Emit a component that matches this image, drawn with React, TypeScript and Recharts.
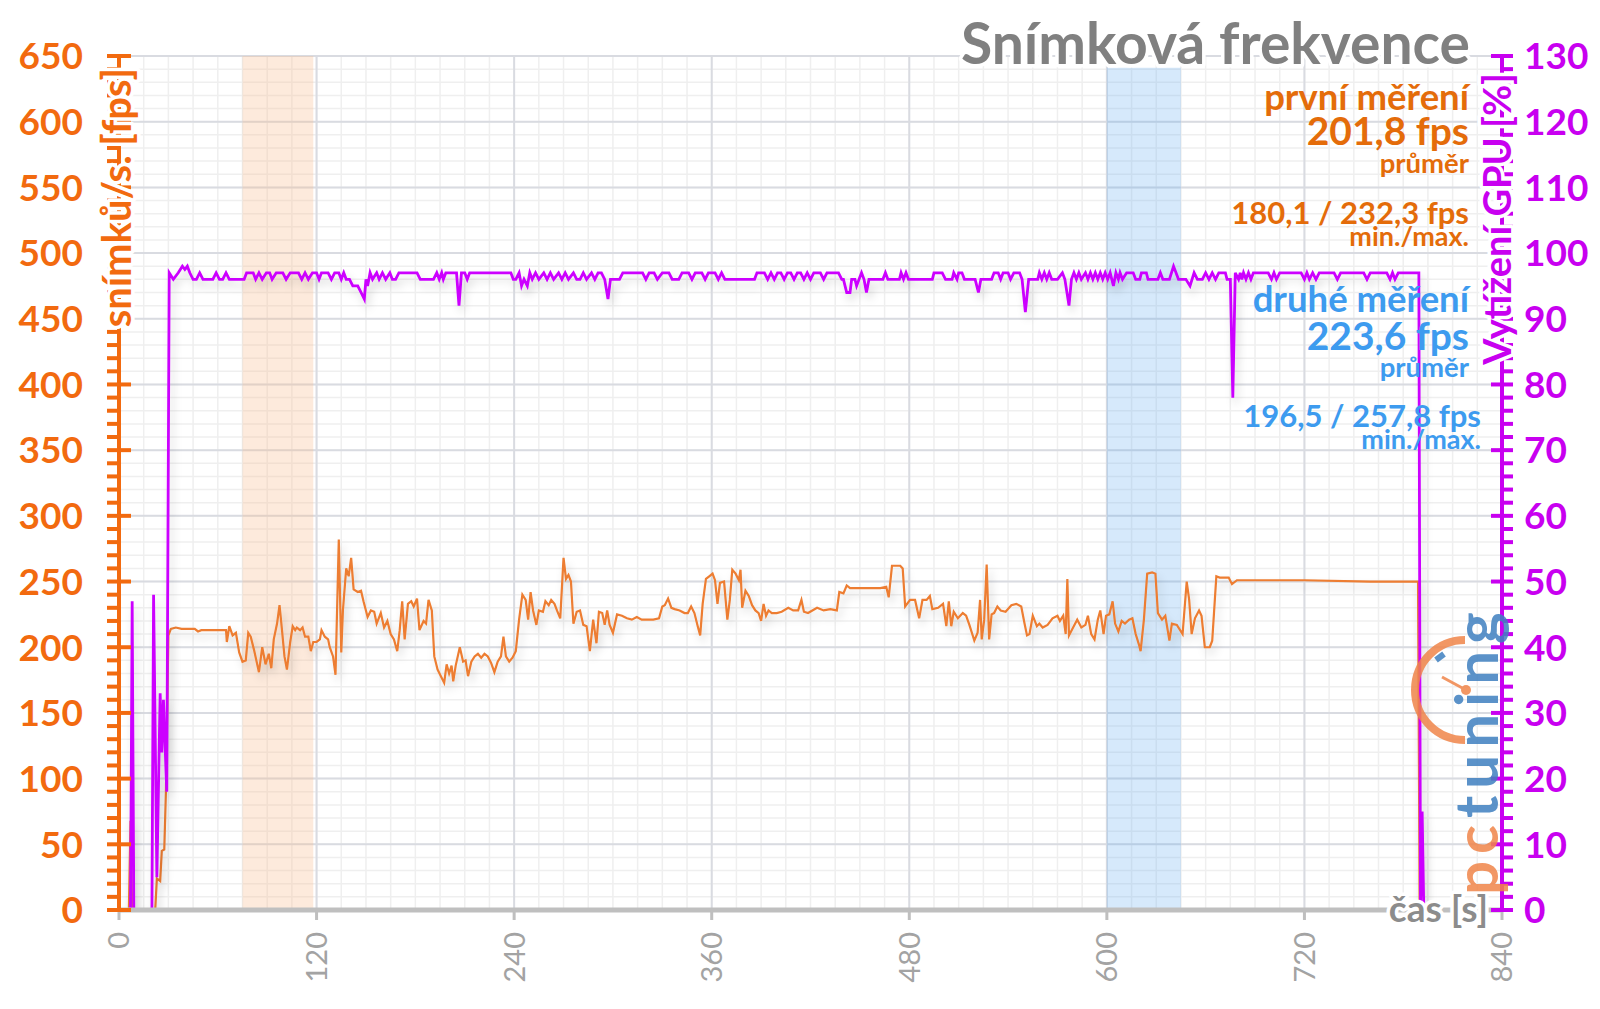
import React from "react";
import {
  ComposedChart,
  Line,
  XAxis,
  YAxis,
  CartesianGrid,
  ReferenceArea,
} from "recharts";

// time [s] -> fps
const fpsPoints: [number, number][] = [
  [0, 0], [6, 0], [7, 68], [8, 0], [22, 0], [23, 24], [25, 22], [26, 45], [27.5, 46], [28.5, 90],
  [30, 209], [31.5, 214], [34.5, 215], [38, 214], [46, 214], [48, 212], [50, 213], [65, 213], [65.5, 204], [67, 216],
  [69, 209], [71, 211], [73, 196], [75, 189], [77, 190], [78.5, 211], [80, 208], [82, 198], [85, 181], [87, 200],
  [89, 187], [91, 195], [92.5, 184], [94, 206], [96, 218], [97.5, 232], [99, 213], [100.5, 193], [102, 183], [104, 204],
  [105.5, 216], [107, 213], [108, 215], [110, 213], [111.5, 215], [113, 208], [115, 208], [116.5, 197], [118, 204], [120, 204],
  [122, 206], [123, 213], [125, 208], [127, 206], [128, 200], [130, 193], [131.5, 179], [133.5, 282], [135, 196], [136, 228],
  [138, 260], [139.5, 254], [141, 268], [142.5, 244], [145, 242], [147, 243], [148.5, 235], [151, 223], [153, 228], [155, 227],
  [156.5, 218], [159, 226], [161, 215], [163, 220], [165, 210], [167, 206], [169, 197], [170.5, 213], [172, 235], [173.5, 206],
  [175.5, 233], [177.5, 235], [179, 231], [181, 237], [182.5, 213], [185, 220], [186.5, 218], [188, 236], [190, 228], [191.5, 193],
  [193.5, 183], [195.5, 178], [197.5, 173], [199, 187], [200.5, 180], [202, 186], [203, 174], [204.5, 186], [207, 200], [209, 189],
  [210.5, 190], [212, 178], [214, 189], [216, 193], [218, 195], [220, 192], [222, 195], [224, 193], [226, 188], [228, 181],
  [230, 189], [232, 193], [233.5, 208], [235, 193], [237, 189], [239, 192], [241, 197], [243, 221], [245, 240], [247, 236],
  [248.5, 221], [250, 242], [251.5, 228], [253.5, 217], [255, 228], [257.5, 227], [259, 235], [261, 232], [262.5, 236], [264.5, 233],
  [266, 228], [268, 222], [270, 268], [271.5, 252], [273, 255], [274.5, 250], [276, 218], [278, 227], [280, 228], [282, 217],
  [284, 216], [286, 197], [288, 221], [290, 203], [291.5, 227], [293.5, 226], [295, 217], [296.5, 228], [298, 217], [300, 211],
  [302.5, 225], [305.5, 224], [308.5, 222], [311.5, 221], [314.5, 223], [317.5, 221], [320.5, 221], [324.5, 221], [328, 222], [330, 231],
  [331.5, 232], [333.5, 237], [335.5, 230], [337.5, 229], [340.5, 228], [343.5, 226], [345.5, 226], [347.5, 231], [349.5, 226], [351.5, 216],
  [353, 209], [354.5, 233], [356.5, 252], [358.5, 254], [360.5, 256], [362, 251], [363.5, 233], [365, 249], [367.5, 250], [369.5, 221],
  [371, 236], [372.5, 259], [374.5, 256], [376.5, 251], [377.5, 259], [378.5, 230], [380.5, 243], [382.5, 239], [384.5, 232], [386.5, 228],
  [388.5, 226], [390, 220], [391.5, 233], [393, 224], [394.5, 228], [396.5, 226], [399.5, 226], [402.5, 227], [406.5, 230], [409.5, 228],
  [412.5, 228], [414.5, 236], [416, 227], [418.5, 226], [424, 230], [428, 228], [432, 229], [436, 228], [437.5, 242], [440, 241],
  [442, 247], [444, 245], [450, 245], [456.5, 245], [462.5, 245], [466, 246], [467.5, 238], [469.5, 262], [474.5, 262], [476, 260],
  [477.5, 231], [480.5, 236], [483.5, 236], [486, 222], [488, 236], [490.5, 236], [492.5, 239], [494, 229], [497.5, 230], [500.5, 233],
  [502.5, 216], [504, 235], [505.5, 216], [507, 227], [509.5, 222], [512.5, 226], [514.5, 224], [516.5, 217], [519.5, 205], [521.5, 211],
  [523, 236], [524, 206], [525.5, 221], [527, 263], [528.5, 206], [530, 225], [531.5, 226], [533.5, 231], [535.5, 228], [538.5, 227],
  [542, 232], [545, 233], [548, 231], [550, 218], [551.5, 209], [553, 210], [555, 224], [557.5, 216], [559, 218], [561, 215],
  [564, 217], [567, 222], [570, 224], [571.5, 220], [573.5, 224], [575, 210], [576, 252], [577, 209], [579.5, 215], [582, 221],
  [584.5, 215], [587, 217], [588.5, 224], [590.5, 210], [592.5, 206], [594.5, 221], [596, 228], [598, 210], [599.5, 224], [601.5, 225],
  [603.5, 235], [605, 218], [607, 212], [609, 220], [611, 218], [613.5, 221], [615.5, 222], [617.5, 210], [619.5, 202], [620.5, 197],
  [622.5, 221], [624.5, 256], [627.5, 257], [629.5, 256], [631, 226], [633.5, 221], [635.5, 224], [638, 205], [639.5, 218], [642.5, 217],
  [646, 210], [648.5, 250], [650, 236], [651.5, 210], [653.5, 222], [656, 228], [657.5, 224], [659.5, 200], [662.5, 200], [664, 205],
  [666.5, 254], [668.5, 253], [674, 253], [676, 248], [679, 251], [720, 251], [760, 250], [789, 250], [790, 0],
];

// time [s] -> GPU load [%]
const gpuPoints: [number, number][] = [
  [0, 0], [7, 0], [8, 47], [9, 0], [20, 0], [21, 48], [23, 5], [25, 33], [26, 24], [27, 32],
  [29, 18], [30.5, 97], [33, 96], [36, 97], [38.5, 98], [40, 97.5], [41.5, 98], [43, 97], [45, 96], [47, 96],
  [49, 97], [51, 96], [57, 96], [59, 97], [61, 96], [63, 96], [65, 97], [67, 96], [76, 96], [77.5, 97],
  [81.5, 97], [83, 96], [85, 97], [87, 96], [89.5, 97], [91.5, 97], [93, 96], [95.5, 97], [99.5, 97], [101.5, 96],
  [104, 97], [109, 97], [111, 96], [113, 97], [115, 96], [117.5, 97], [120, 97], [121.5, 96], [123, 97], [127, 97],
  [129, 96], [131, 97], [133.5, 97], [135, 96], [136.5, 97], [138, 96], [140, 96], [142, 95], [145, 95], [147, 94],
  [149, 93], [150, 96], [151, 95], [152.5, 97], [154, 96], [156.5, 97], [158, 96], [160, 97], [162, 96], [164.5, 97],
  [166, 96], [168, 96], [170, 97], [181, 97], [183, 96], [191, 96], [193, 97], [194.5, 96], [196, 97], [197, 96],
  [198.5, 97], [205, 97], [206.5, 92], [208, 97], [210, 97], [211.5, 96], [213, 97], [238, 97], [239.5, 96], [241, 96],
  [243, 97], [244.5, 95], [246, 96], [248, 95], [249.5, 97], [251, 96], [253, 97], [255, 96], [258, 97], [260, 96],
  [262, 97], [264, 96], [267, 97], [269, 96], [271, 97], [273, 96], [276, 97], [278, 96], [280, 96], [282, 97],
  [284, 96], [287, 97], [289, 96], [291, 97], [293, 97], [295, 96], [297, 93], [298.5, 96], [304, 96], [306, 97],
  [318, 97], [320, 96], [322, 97], [325, 97], [327, 96], [330, 97], [334, 97], [336, 96], [340, 96],
  [342, 97], [346, 97], [348, 96], [350, 97], [354, 97], [356, 96], [358, 97], [362, 97], [364, 96], [366, 97],
  [368, 96], [386, 96], [387.5, 97], [392, 97], [394, 96],
  [396, 97], [398, 96], [400, 97], [402, 97], [404, 96], [406, 97], [408, 97], [410, 96], [412, 97], [414, 97],
  [416, 96], [418, 97], [420, 96], [422, 97], [426, 97], [428, 96], [430, 97], [437, 97], [439, 96], [440, 96],
  [442, 94], [444, 94], [445, 96], [447, 96], [448, 95], [449.5, 96], [451, 97], [452.5, 96], [454, 94], [455.5, 96],
  [464, 96], [465.5, 97], [467, 96], [474, 96], [475, 97], [476.5, 96], [478, 97], [479.5, 96], [494, 96], [495, 97],
  [500, 97], [502, 96], [506, 96], [507, 97], [509, 96], [510, 97], [512, 97], [513.5, 96], [520, 96], [522, 94],
  [523.5, 96], [530, 96], [531.5, 97], [534, 97], [535.5, 96], [537, 97], [540, 97], [541.5, 96], [543.5, 97], [547, 97],
  [548.5, 96], [550.5, 91], [552.5, 96], [558, 96], [559, 97], [560.5, 96], [562, 97], [563.5, 96], [565, 97], [566.5, 96],
  [570, 96], [573, 97], [574.5, 96], [577, 92], [578.5, 96], [580, 97], [581.5, 96], [583, 97], [584.5, 96], [587, 97],
  [588.5, 96], [590, 97], [591.5, 96], [593, 97], [594.5, 96], [596, 97], [597.5, 96], [599, 97], [600.5, 96], [602, 97],
  [603, 96], [604, 95], [605.5, 97], [607, 96], [608, 97], [609.5, 96], [612, 97], [616, 97], [617.5, 96], [620, 96],
  [621, 97], [624, 97], [625, 96], [631, 96], [632.5, 97], [634, 96], [638, 96], [640.5, 98], [642, 97], [643.5, 96],
  [648, 96], [650.5, 95], [653, 97], [655, 96], [658, 96], [660, 97], [662, 96], [664, 97], [666, 96], [668, 97],
  [672, 97], [673, 96], [675, 96], [676.5, 78], [678, 97], [680, 96], [681, 97], [682, 96], [683, 97], [684.5, 96],
  [686, 97], [687.5, 96], [689, 97], [698, 97], [700, 96], [701.5, 97], [703, 96], [705, 97], [718, 97], [720, 96],
  [721.5, 97], [723, 96], [725, 97], [727, 96], [729, 97], [738, 97], [740, 96], [742, 97], [756, 97], [758, 96],
  [760, 97], [770, 97], [772, 96], [773.5, 97], [775, 96], [777, 97], [789.5, 97], [790.5, 0], [791.5, 15], [792.5, 0],
];

const timeTicks = [0, 120, 240, 360, 480, 600, 720, 840];
const fpsMajorTicks = [0, 50, 100, 150, 200, 250, 300, 350, 400, 450, 500, 550, 600, 650];

// measured windows (s)
const firstRun = [75, 118];
const secondRun = [600, 645];

const firstStats = { label: "první měření", avg: "201,8 fps", minMax: "180,1 / 232,3 fps" };
const secondStats = { label: "druhé měření", avg: "223,6 fps", minMax: "196,5 / 257,8 fps" };

const fpsMinorTicks = Array.from({ length: 66 }, (_, i) => i * 10);
const gpuMinorTicks = Array.from({ length: 66 }, (_, i) => i * 2);
const timeMinorLines = Array.from({ length: 57 }, (_, i) => i * 15);

const fpsData = fpsPoints.map(([t, v]) => ({ t, fps: v }));
const gpuData = gpuPoints.map(([t, v]) => ({ t, gpu: v }));

const FONT = "Lato, 'Open Sans', sans-serif";
const AXIS_ORANGE = "#F26A0F";
const AXIS_MAGENTA = "#C800F0";
const TEXT_ORANGE = "#E46C0A";
const TEXT_BLUE = "#3D9BEF";
const GRAY = "#8C8C8C";

const FpsTick = (props: any) => {
  const { x, y, payload } = props;
  const v = payload.value;
  const major = v % 50 === 0;
  return (
    <g>
      <line x1={x - 12} x2={major ? x + 12 : x - 1} y1={y} y2={y} stroke={AXIS_ORANGE} strokeWidth={4} />
      {major && (
        <text x={x - 36} y={y} dy="0.36em" textAnchor="end" fill={AXIS_ORANGE}
          style={{ fontFamily: FONT, fontWeight: 700, fontSize: 37 }}>
          {v}
        </text>
      )}
    </g>
  );
};

const GpuTick = (props: any) => {
  const { x, y, payload } = props;
  const v = payload.value;
  const major = v % 10 === 0;
  return (
    <g>
      <line x1={major ? x - 11 : x + 1} x2={x + 11} y1={y} y2={y} stroke={AXIS_MAGENTA} strokeWidth={4} />
      {major && (
        <text x={x + 22} y={y} dy="0.36em" textAnchor="start" fill={AXIS_MAGENTA}
          style={{ fontFamily: FONT, fontWeight: 700, fontSize: 37 }}>
          {v}
        </text>
      )}
    </g>
  );
};

const TimeTick = (props: any) => {
  const { x, y, payload } = props;
  return (
    <text x={x} y={y} dy="0.36em" textAnchor="end" transform={`rotate(-90 ${x} ${y})`} fill="#A3A3A3"
      style={{ fontFamily: FONT, fontSize: 29 }}>
      {payload.value}
    </text>
  );
};

const halo = { paintOrder: "stroke", stroke: "#fff", strokeWidth: 7, strokeLinejoin: "round" } as any;

const Overlay = () => (
  <svg width={1600} height={1009} style={{ position: "absolute", left: 0, top: 0, pointerEvents: "none" }}>
    <g style={{ fontFamily: FONT, fontWeight: 700 }}>
      <text x={1470} y={64} textAnchor="end" fill="#808080" fontSize={57} style={halo}>Snímková frekvence</text>

      <text x={1469} y={110} textAnchor="end" fill={TEXT_ORANGE} fontSize={36.5}>{firstStats.label}</text>
      <text x={1469} y={145} textAnchor="end" fill={TEXT_ORANGE} fontSize={39}>{firstStats.avg}</text>
      <text x={1469} y={173} textAnchor="end" fill={TEXT_ORANGE} fontSize={27.5}>průměr</text>
      <text x={1469} y={224} textAnchor="end" fill={TEXT_ORANGE} fontSize={31}>{firstStats.minMax}</text>
      <text x={1469} y={246} textAnchor="end" fill={TEXT_ORANGE} fontSize={27}>min./max.</text>

      <text x={1469} y={312} textAnchor="end" fill={TEXT_BLUE} fontSize={36.5}>{secondStats.label}</text>
      <text x={1469} y={350} textAnchor="end" fill={TEXT_BLUE} fontSize={39}>{secondStats.avg}</text>
      <text x={1469} y={377} textAnchor="end" fill={TEXT_BLUE} fontSize={27.5}>průměr</text>
      <text x={1481} y={427} textAnchor="end" fill={TEXT_BLUE} fontSize={31}>{secondStats.minMax}</text>
      <text x={1481} y={449} textAnchor="end" fill={TEXT_BLUE} fontSize={27}>min./max.</text>

      <text x={131} y={68} textAnchor="end" transform="rotate(-90 131 68)" fill={AXIS_ORANGE} fontSize={40} style={halo}>
        snímků/s. [fps]
      </text>
      <text x={1511} y={73} textAnchor="end" transform="rotate(-90 1511 73)" fill={AXIS_MAGENTA} fontSize={38} style={halo}>
        Vytížení GPU [%]
      </text>
      <text x={1488} y={922} textAnchor="end" fill={GRAY} fontSize={37} style={halo}>čas [s]</text>
    </g>
    {/* watermark */}
    <g opacity={0.85}>
      <path d="M 1465 640 A 50 50 0 0 0 1465 740" fill="none" stroke="#F0854A" strokeWidth={8} />
      <line x1={1442} y1={677} x2={1466} y2={690} stroke="#F0854A" strokeWidth={3} />
      <circle cx={1466} cy={690} r={5} fill="#F0854A" />
      <line x1={1436} y1={660} x2={1444} y2={654} stroke="#3F80C0" strokeWidth={6} />
      <text x={1498} y={895} transform="rotate(-90 1498 895)" fontSize={60} fontWeight={700}
        style={{ fontFamily: FONT, letterSpacing: 7 }}>
        <tspan fill="#F0854A">pc</tspan>
        <tspan fill="#3F80C0">tuning</tspan>
      </text>
    </g>
  </svg>
);

export default function App() {
  return (
    <div style={{ position: "relative", width: 1600, height: 1009, background: "#fff" }}>
      <style>{"body{margin:0;background:#fff}"}</style>
      <svg width={0} height={0} style={{ position: "absolute" }}>
        <defs>
          <filter id="lineShadow" x="-5%" y="-10%" width="110%" height="130%">
            <feDropShadow dx="3" dy="6" stdDeviation="4" floodColor="#000" floodOpacity="0.16" />
          </filter>
        </defs>
      </svg>
      <ComposedChart
        width={1600}
        height={1009}
        margin={{ top: 56, right: 0, bottom: 39, left: 9 }}
        style={{ position: "absolute", left: 0, top: 0 }}
      >
        <XAxis
          xAxisId="t"
          dataKey="t"
          type="number"
          domain={[0, 840]}
          ticks={timeTicks}
          interval={0}
          height={60}
          tickSize={10}
          tickMargin={12}
          axisLine={{ stroke: "#BFBFBF", strokeWidth: 5 }}
          tickLine={{ stroke: "#BFBFBF", strokeWidth: 3 }}
          tick={<TimeTick />}
          allowDataOverflow
        />
        <YAxis
          yAxisId="fps"
          orientation="left"
          type="number"
          domain={[0, 650]}
          ticks={fpsMinorTicks}
          interval={0}
          width={110}
          tickSize={0}
          tickMargin={0}
          axisLine={{ stroke: AXIS_ORANGE, strokeWidth: 4 }}
          tickLine={false}
          tick={<FpsTick />}
          allowDataOverflow
        />
        <YAxis
          yAxisId="gpu"
          orientation="right"
          type="number"
          domain={[0, 130]}
          ticks={gpuMinorTicks}
          interval={0}
          width={98}
          tickSize={0}
          tickMargin={0}
          axisLine={{ stroke: AXIS_MAGENTA, strokeWidth: 4 }}
          tickLine={false}
          tick={<GpuTick />}
          allowDataOverflow
        />
        <ReferenceArea xAxisId="t" yAxisId="fps" x1={firstRun[0]} x2={firstRun[1]} y1={0} y2={650}
          fill="#F9B98A" fillOpacity={0.3} stroke="none" />
        <ReferenceArea xAxisId="t" yAxisId="fps" x1={secondRun[0]} x2={secondRun[1]} y1={0} y2={641}
          fill="#5DA8F0" fillOpacity={0.25} stroke="none" />
        <CartesianGrid xAxisId="t" yAxisId="fps" horizontalValues={fpsMinorTicks} verticalValues={timeMinorLines}
          stroke="#EFEFEF" strokeWidth={1.5} />
        <CartesianGrid xAxisId="t" yAxisId="fps" horizontalValues={fpsMajorTicks} verticalValues={timeTicks}
          stroke="#D9DBE1" strokeWidth={2} />
        <Line xAxisId="t" yAxisId="fps" data={fpsData} dataKey="fps" type="linear" stroke="#ED7D31" strokeWidth={2.2}
          dot={false} activeDot={false} isAnimationActive={false} style={{ filter: "url(#lineShadow)" }} />
        <Line xAxisId="t" yAxisId="gpu" data={gpuData} dataKey="gpu" type="linear" stroke="#CC00FF" strokeWidth={2.8}
          dot={false} activeDot={false} isAnimationActive={false} style={{ filter: "url(#lineShadow)" }} />
      </ComposedChart>
      <Overlay />
    </div>
  );
}
